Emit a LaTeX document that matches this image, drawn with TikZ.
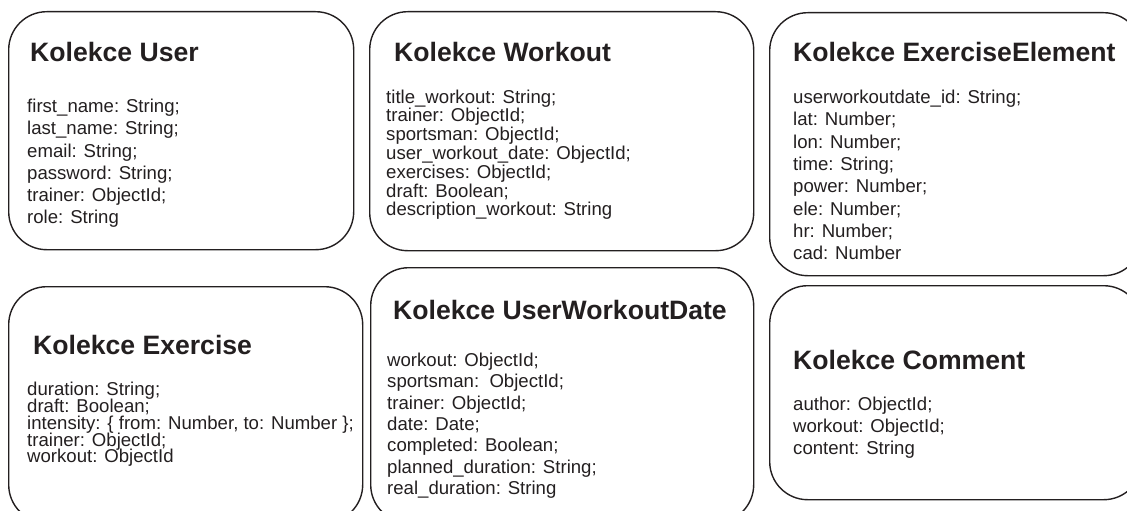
\documentclass[tikz,border=0pt]{standalone}
\usepackage{fontspec}
\setmainfont{Liberation Sans}
\usepackage{tikz}

\definecolor{inkgray}{HTML}{231F20}
\setlength{\lineskiplimit}{-100pt}

\begin{document}
\begin{tikzpicture}[x=1pt,y=-1pt,
        collbox/.style={draw=inkgray,line width=1.4pt,rounded corners=38pt,anchor=north west,inner sep=0pt},
        colltitle/.style={anchor=base west,inner sep=0pt,text=inkgray,font=\fontsize{26.6}{30}\selectfont\bfseries},
        collbody/.style={anchor=north west,inner sep=0pt,align=left,text=inkgray,
            font=\fontsize{18.6}{#1}\selectfont}]

    \useasboundingbox (0,0) rectangle (1127,511);

    % top row
    \node[collbox,minimum width=345pt,minimum height=238pt] (user) at (8,11) {};
    \node[colltitle] (user-title) at (30,62) {Kolekce User};
    \node[collbody=22.2pt] (user-body) at (27,99) {first\_name: String;\\last\_name: String;\\email: String;\\password: String;\\trainer: ObjectId;\\role: String};

    \node[collbox,minimum width=384pt,minimum height=239pt] (workout) at (369,11) {};
    \node[colltitle] (workout-title) at (394,62) {Kolekce Workout};
    \node[collbody=18.8pt] (workout-body) at (386,89.5) {title\_workout: String;\\trainer: ObjectId;\\sportsman: ObjectId;\\user\_workout\_date: ObjectId;\\exercises: ObjectId;\\draft: Boolean;\\description\_workout: String};

    \node[collbox,minimum width=372pt,minimum height=263pt] (exelem) at (769,12) {};
    \node[colltitle] (exelem-title) at (793,62) {Kolekce ExerciseElement};
    \node[collbody=22.3pt] (exelem-body) at (793,90) {userworkoutdate\_id: String;\\lat: Number;\\lon: Number;\\time: String;\\power: Number;\\ele: Number;\\hr: Number;\\cad: Number};

    % bottom row
    \node[collbox,minimum width=354pt,minimum height=236pt] (exercise) at (8,286) {};
    \node[colltitle] (exercise-title) at (33,354) {Kolekce Exercise};
    \node[collbody=16.8pt] (exercise-body) at (27,382) {duration: String;\\draft: Boolean;\\intensity: \{ from: Number, to: Number \};\\trainer: ObjectId;\\workout: ObjectId};

    \node[collbox,minimum width=383pt,minimum height=255pt] (uwdate) at (370,267) {};
    \node[colltitle] (uwdate-title) at (393,319) {Kolekce UserWorkoutDate};
    \node[collbody=21.3pt] (uwdate-body) at (387,353) {workout: ObjectId;\\sportsman:\ \ ObjectId;\\trainer: ObjectId;\\date: Date;\\completed: Boolean;\\planned\_duration: String;\\real\_duration: String};

    \node[collbox,minimum width=372pt,minimum height=214pt] (comment) at (769,285) {};
    \node[colltitle] (comment-title) at (793,369) {Kolekce Comment};
    \node[collbody=22pt] (comment-body) at (793,397) {author: ObjectId;\\workout: ObjectId;\\content: String};
\end{tikzpicture}
\end{document}
